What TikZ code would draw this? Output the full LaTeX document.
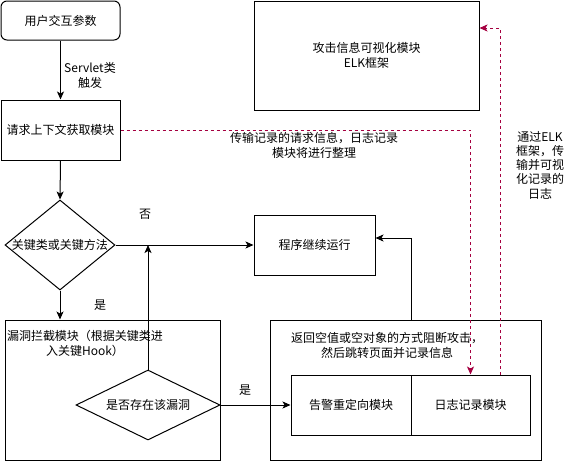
\documentclass[tikz,border=0pt]{standalone}
\usepackage{fontspec}
\setmainfont{Noto Sans CJK SC}
\usetikzlibrary{arrows.meta,shapes.geometric}
\definecolor{dashred}{RGB}{165,0,64}
\begin{document}
\begin{tikzpicture}[x=1pt,y=-1pt,
  font=\fontsize{12}{15}\selectfont,
  box/.style={draw,line width=1pt,rectangle,inner sep=0pt,align=center},
  dbox/.style={draw,line width=1pt,diamond,inner sep=0pt},
  lbl/.style={align=center,inner sep=0pt},
  arr/.style={draw,line width=1pt,-{Stealth[length=8pt,width=7pt,inset=2pt]}},
  redarr/.style={draw=dashred,line width=1pt,dash pattern=on 3pt off 3pt,-{Stealth[length=8pt,width=7pt,inset=2pt]}}]
\useasboundingbox (0,0) rectangle (571,461);
\node[box,rounded corners=6pt,minimum width=119pt,minimum height=39pt] (user) at (60.5,20.5) {用户交互参数};
\node[box,minimum width=119pt,minimum height=60pt] (req) at (60.5,130) {请求上下文获取模块};
\node[dbox,minimum width=110pt,minimum height=90pt] (d1) at (60,245) {};
\node[lbl] (d1t) at (d1) {关键类或关键方法};
\node[box,minimum width=121pt,minimum height=60pt] (prog) at (314.5,245) {程序继续运行};
\node[box,minimum width=215pt,minimum height=140pt] (vuln) at (112.5,390) {};
\node[lbl] (vulnt) at (85,343) {漏洞拦截模块（根据关键类进\\入关键Hook）};
\node[dbox,fill=white,minimum width=144pt,minimum height=70pt] (d2) at (148,405) {};
\node[lbl] (d2t) at (d2) {是否存在该漏洞};
\node[box,minimum width=271pt,minimum height=140pt] (block) at (405.5,390) {};
\node[lbl] (blockt) at (387,345) {返回空值或空对象的方式阻断攻击，\\然后跳转页面并记录信息};
\node[box,minimum width=120pt,minimum height=60pt] (alarm) at (351,405) {告警重定向模块};
\node[box,minimum width=119pt,minimum height=60pt] (log) at (470.5,405) {日志记录模块};
\node[box,minimum width=225pt,minimum height=109pt] (elk) at (366.5,55.5) {攻击信息可视化模块\\ELK框架};
% connectors
\draw[arr] (user.south) -- (req.north);
\node[lbl] (lservlet) at (90,75) {Servlet类\\触发};
\draw[arr] (req.south) -- (d1.north);
\draw[arr] (d1.east) -- (prog.west);
\node[lbl] (lno) at (145,214) {否};
\draw[arr] (d1.south) -- (d1.south |- vuln.north);
\node[lbl] (lyes1) at (100,305) {是};
\draw[arr] (d2.north) -- (d2.north |- d1.east);
\draw[arr] (d2.east) -- (alarm.west);
\node[lbl] (lyes2) at (245,390) {是};
\draw[arr] (alarm.north east |- block.north) |- ([yshift=7pt]prog.east);
\draw[redarr] (req.east) -| (log.north);
\node[lbl] (ltrans) at (314,145) {传输记录的请求信息，日志记录\\模块将进行整理};
\draw[redarr] ([xshift=29.5pt]log.north) |- ([yshift=27.5pt]elk.east);
\node[lbl,font=\fontsize{12}{14.3}\selectfont] (lelk) at (540,165) {通过ELK\\框架，传\\输并可视\\化记录的\\日志};
\end{tikzpicture}
\end{document}
